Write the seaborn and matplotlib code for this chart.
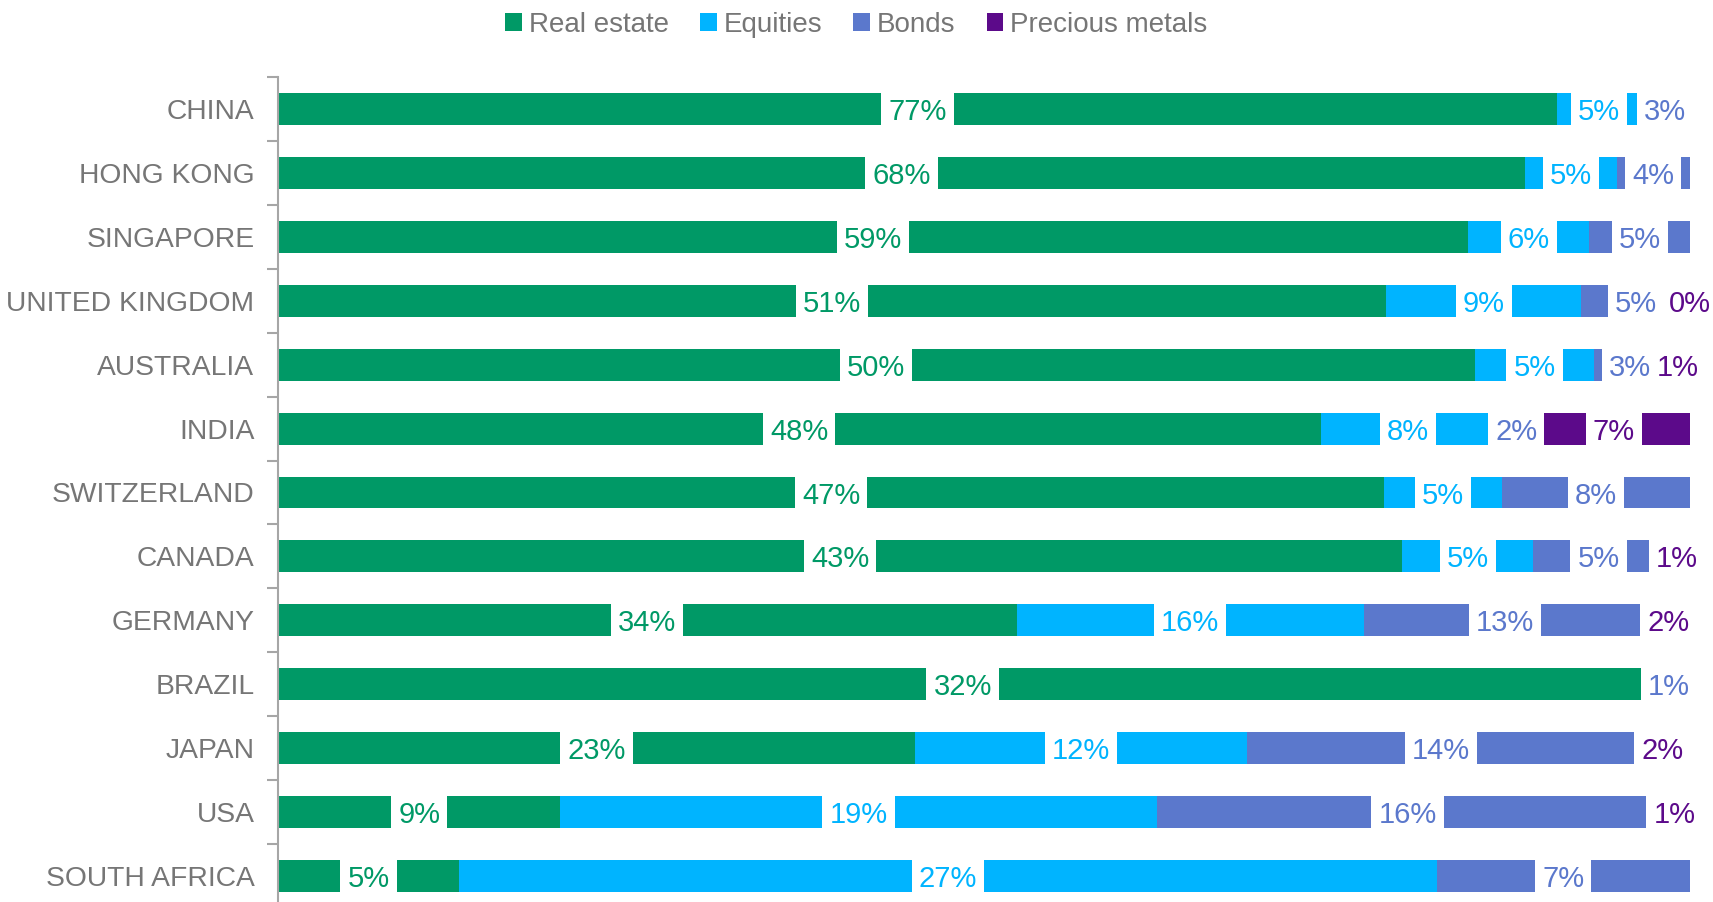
import matplotlib
matplotlib.use("Agg")
import matplotlib.pyplot as plt
import seaborn as sns
import numpy as np
import pandas as pd
from matplotlib.patches import Patch
from matplotlib.ticker import FixedLocator

countries = ["CHINA", "HONG KONG", "SINGAPORE", "UNITED KINGDOM", "AUSTRALIA", "INDIA",
             "SWITZERLAND", "CANADA", "GERMANY", "BRAZIL", "JAPAN", "USA", "SOUTH AFRICA"]
real_estate = [77, 68, 59, 51, 50, 48, 47, 43, 34, 32, 23, 9, 5]
equities = [5, 5, 6, 9, 5, 8, 5, 5, 16, None, 12, 19, 27]
bonds = [3, 4, 5, 5, 3, 2, 8, 5, 13, 1, 14, 16, 7]
precious_metals = [None, None, None, 0, 1, 7, None, 1, 2, None, 2, 1, None]

series_names = ["Real estate", "Equities", "Bonds", "Precious metals"]
colors = ["#009966", "#00b4ff", "#5b78cc", "#5c0a8a"]

sns.set_theme(style="white")
plt.rcParams["font.family"] = ["Liberation Sans", "DejaVu Sans"]

df = pd.DataFrame({"country": countries, "Real estate": real_estate, "Equities": equities,
                   "Bonds": bonds, "Precious metals": precious_metals})
vals = df[series_names].astype(float).fillna(0.0)
share = vals.div(vals.sum(axis=1), axis=0)
cum = share.cumsum(axis=1)

fig = plt.figure(figsize=(17.13, 9.02), dpi=100)
ax = fig.add_axes([278 / 1713, 1 - 908 / 902, (1690 - 278) / 1713, (908 - 77) / 902])

# draw cumulative layers back to front
for name, col in reversed(list(zip(series_names, colors))):
    d = pd.DataFrame({"country": countries, "x": cum[name].values})
    sns.barplot(data=d, x="x", y="country", orient="h", color=col, width=0.5,
                saturation=1, linewidth=0, ax=ax, order=countries)

# labels
raw = {"Real estate": real_estate, "Equities": equities, "Bonds": bonds,
       "Precious metals": precious_metals}
for j, (name, col) in enumerate(zip(series_names, colors)):
    for i, c in enumerate(countries):
        v = raw[name][i]
        if v is None:
            continue
        right = cum[name].iloc[i]
        left = right - share[name].iloc[i]
        ax.text((left + right) / 2, i, f"{v}%", ha="center", va="center_baseline",
                fontsize=21, color=col, zorder=5,
                bbox=dict(facecolor="white", edgecolor="none", pad=5.0))

ax.set_xlim(0, 1)
ax.set_ylim(12.5, -0.5)
ax.set_xlabel("")
ax.set_ylabel("")
ax.set_xticks([])
for s in ["top", "right", "bottom"]:
    ax.spines[s].set_visible(False)
ax.spines["left"].set_color("#a6a6a6")
ax.spines["left"].set_linewidth(1.5)
ax.tick_params(axis="y", which="major", length=0, pad=17, labelsize=20.3, labelcolor="#767676")
ax.yaxis.set_minor_locator(FixedLocator(np.arange(-0.5, 13.0, 1.0)))
ax.tick_params(axis="y", which="minor", length=8, width=1.5, color="#a6a6a6", left=True)

handles = [Patch(facecolor=c, edgecolor="none") for c in colors]
fig.legend(handles, series_names, loc="center", bbox_to_anchor=(0.5, 1 - 25 / 902), ncol=4,
           frameon=False, fontsize=20, labelcolor="#767676", handlelength=0.6,
           handleheight=0.6, handletextpad=0.25, columnspacing=1.12)

fig.savefig("out.png", dpi=100)
